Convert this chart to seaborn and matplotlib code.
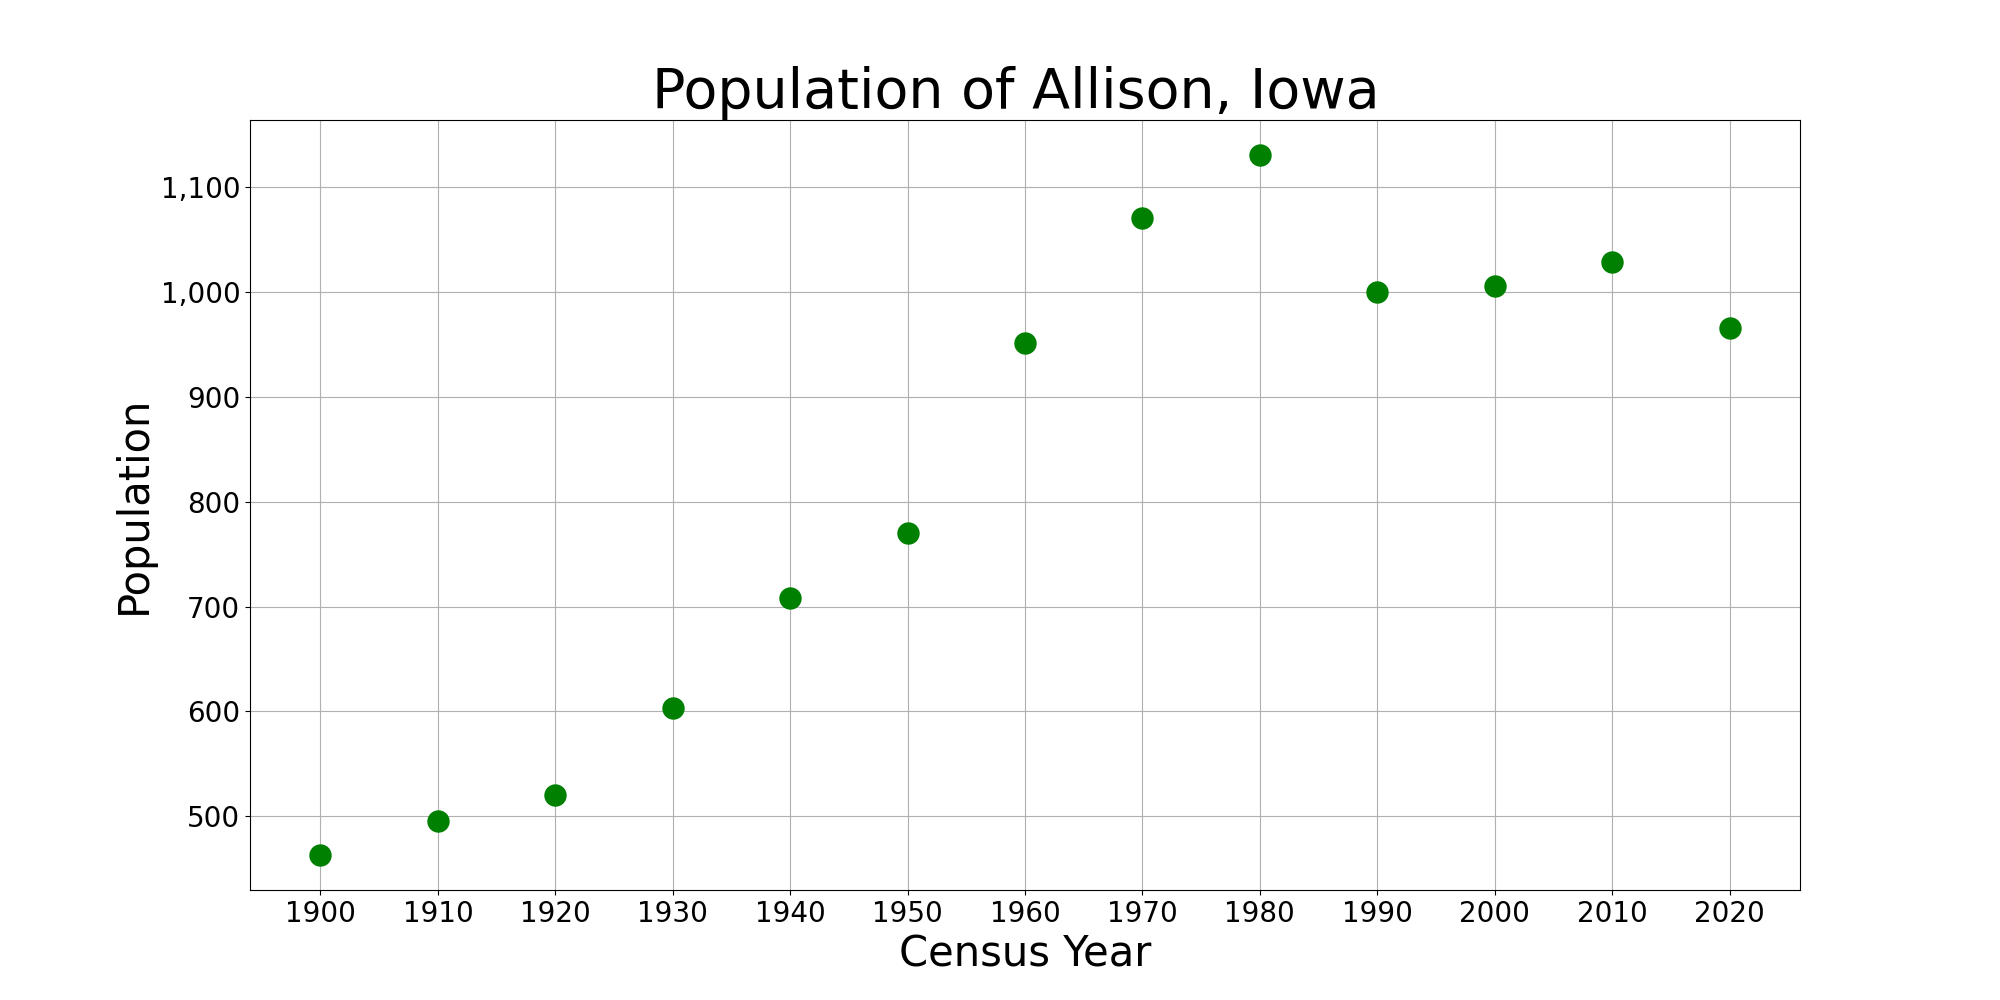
import matplotlib
matplotlib.use("Agg")
import matplotlib.pyplot as plt
import matplotlib.ticker as mticker
import seaborn as sns
import pandas as pd

years = [1900, 1910, 1920, 1930, 1940, 1950, 1960, 1970, 1980, 1990, 2000, 2010, 2020]
population = [463, 495, 520, 603, 708, 770, 952, 1071, 1131, 1000, 1006, 1029, 966]
xticks = years

df = pd.DataFrame({"year": years, "population": population})

fig, ax = plt.subplots(figsize=(20, 10), dpi=100)
sns.scatterplot(data=df, x="year", y="population", ax=ax, color="green",
                s=260, linewidth=0, zorder=3)
ax.grid(True, zorder=0)
ax.set_axisbelow(True)
ax.set_xticks(xticks)
ax.yaxis.set_major_formatter(mticker.StrMethodFormatter("{x:,.0f}"))
ax.tick_params(labelsize=20)
ax.set_title("Population of Allison, Iowa ", fontsize=40)
ax.set_xlabel("Census Year", fontsize=30)
ax.set_ylabel("Population", fontsize=30)
fig.savefig("out.png", dpi=100)
